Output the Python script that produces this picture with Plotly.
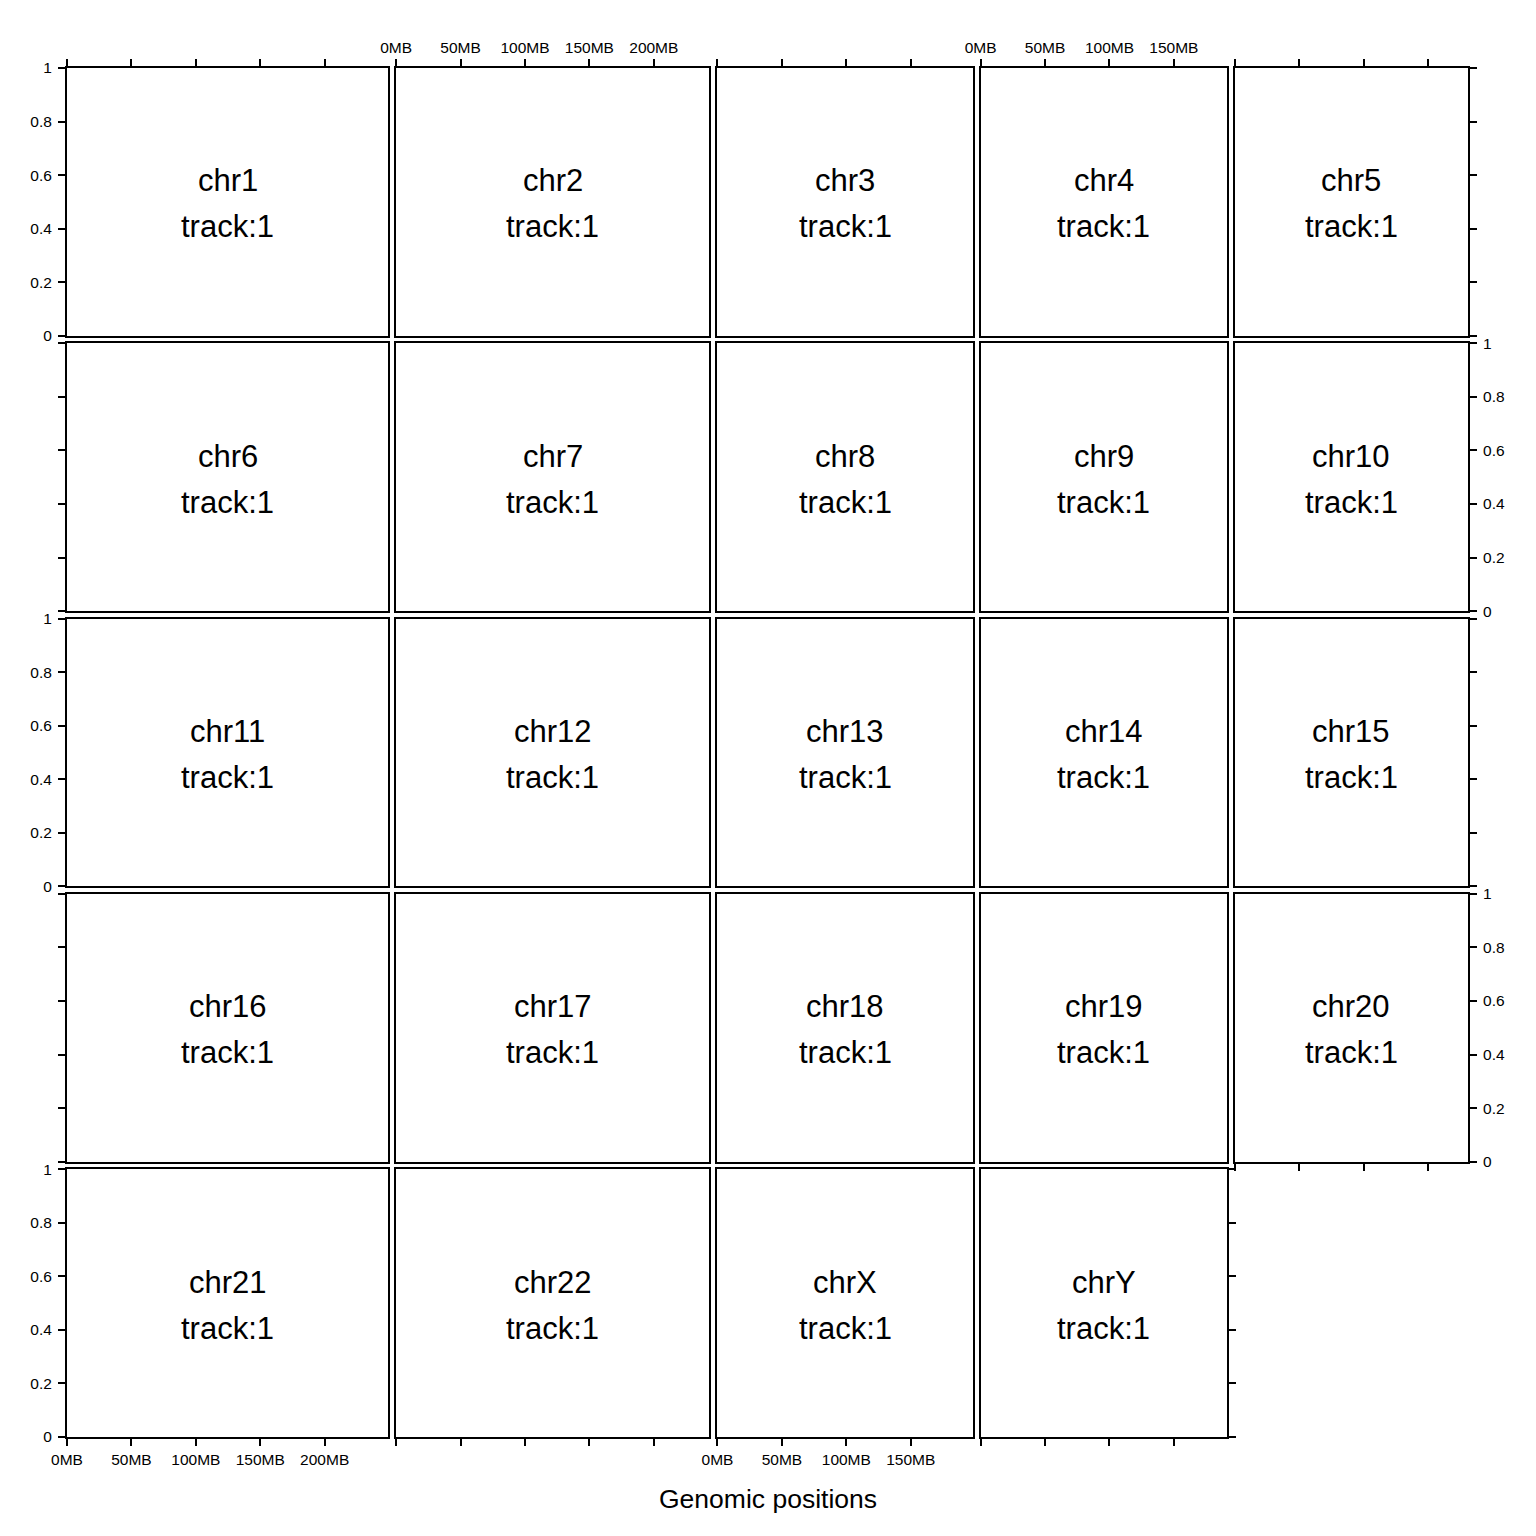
import plotly.graph_objects as go

# ---------------- data ----------------
chromosomes = ["chr1", "chr2", "chr3", "chr4", "chr5", "chr6", "chr7", "chr8",
               "chr9", "chr10", "chr11", "chr12", "chr13", "chr14", "chr15",
               "chr16", "chr17", "chr18", "chr19", "chr20", "chr21", "chr22",
               "chrX", "chrY"]
# hg19 chromosome lengths in MB
chrom_len_mb = [249.25, 243.20, 198.02, 191.15, 180.92, 171.12, 159.14, 146.36,
                141.21, 135.53, 135.01, 133.85, 115.17, 107.35, 102.53,
                90.35, 81.20, 78.08, 59.13, 63.03, 48.13, 51.30,
                155.27, 59.37]
track_labels = ["track:1"] * len(chromosomes)
x_tick_mb = [0, 50, 100, 150, 200]
x_tick_text = ["0MB", "50MB", "100MB", "150MB", "200MB"]
y_tick_vals = [0, 0.2, 0.4, 0.6, 0.8, 1]
y_tick_text = ["0", "0.2", "0.4", "0.6", "0.8", "1"]
x_title = "Genomic positions"

# ---------------- layout ----------------
W = H = 1536
NROW, NCOL = 5, 5
LEFT, RIGHT, TOP, BOTTOM = 67, 1468, 68, 1437
GAPX, GAPY = 8, 7.5
FONT = "Liberation Sans, Arial, Helvetica, sans-serif"

col_max = []
for c in range(NCOL):
    vals = [chrom_len_mb[i] for i in range(len(chromosomes)) if i % NCOL == c]
    col_max.append(max(vals))
scale = (RIGHT - LEFT - GAPX * (NCOL - 1)) / sum(col_max)
col_x = []
x = LEFT
for c in range(NCOL):
    w = col_max[c] * scale
    col_x.append((x, x + w))
    x += w + GAPX
row_h = (BOTTOM - TOP - GAPY * (NROW - 1)) / NROW
row_y = [(TOP + r * (row_h + GAPY), TOP + r * (row_h + GAPY) + row_h) for r in range(NROW)]

fig = go.Figure()
layout = dict(template="none", width=W, height=H, autosize=False,
              margin=dict(l=0, r=0, t=0, b=0, pad=0, autoexpand=False),
              paper_bgcolor="white", plot_bgcolor="white",
              showlegend=False, font=dict(family=FONT, color="black"))
annotations = []

last_row_of_col = {}
for i in range(len(chromosomes)):
    last_row_of_col[i % NCOL] = i // NCOL

for i, chrom in enumerate(chromosomes):
    r, c = i // NCOL, i % NCOL
    k = i + 1
    xa = "xaxis" if k == 1 else f"xaxis{k}"
    ya = "yaxis" if k == 1 else f"yaxis{k}"
    xr = "x" if k == 1 else f"x{k}"
    yr = "y" if k == 1 else f"y{k}"
    x0, x1 = col_x[c]
    y0, y1 = row_y[r]
    cm = col_max[c]
    tv = [v for v in x_tick_mb if v <= cm]
    tt = [x_tick_text[j] for j, v in enumerate(x_tick_mb) if v <= cm]

    # x axis: top on first row, bottom on last row of column
    xside, xticks, xlabels = "bottom", "", False
    if r == 0:
        xside, xticks, xlabels = "top", "outside", (c % 2 == 1)
    elif r == last_row_of_col[c]:
        xside, xticks, xlabels = "bottom", "outside", (c in (0, 2))
    # y axis: left on first column, right on last column of row
    yside, yticks, ylabels = "left", "", False
    ncols_in_row = len([j for j in range(len(chromosomes)) if j // NCOL == r])
    if c == 0:
        yside, yticks, ylabels = "left", "outside", (r % 2 == 0)
    elif c == ncols_in_row - 1:
        yside, yticks, ylabels = "right", "outside", (r % 2 == 1 and c == NCOL - 1)

    layout[xa] = dict(domain=[x0 / W, x1 / W], range=[0, cm], anchor=yr,
                      side=xside, showline=True, mirror=True, linecolor="black",
                      linewidth=2, ticks=xticks, ticklen=7, tickwidth=2,
                      tickcolor="black", tickvals=tv, ticktext=tt,
                      showticklabels=xlabels, showgrid=False, zeroline=False,
                      automargin=False,
                      tickfont=dict(size=15.5, family=FONT, color="black"),
                      fixedrange=True)
    layout[ya] = dict(domain=[1 - y1 / H, 1 - y0 / H], range=[0, 1], anchor=xr,
                      side=yside, showline=True, mirror=True, linecolor="black",
                      linewidth=2, ticks=yticks, ticklen=7, tickwidth=2,
                      tickcolor="black", tickvals=y_tick_vals, ticktext=y_tick_text,
                      showticklabels=ylabels, showgrid=False, zeroline=False,
                      automargin=False, ticklabelstandoff=3,
                      tickfont=dict(size=15.5, family=FONT, color="black"),
                      fixedrange=True)
    fig.add_trace(go.Scatter(x=[0, chrom_len_mb[i]], y=[0.5, 0.5], mode="lines",
                             line=dict(width=0), opacity=0, hoverinfo="skip",
                             xaxis=xr, yaxis=yr))
    annotations.append(dict(x=cm / 2, y=0.5, xref=xr, yref=yr, text=chrom,
                            showarrow=False, yshift=21,
                            font=dict(size=31, family=FONT, color="black")))
    annotations.append(dict(x=cm / 2, y=0.5, xref=xr, yref=yr, text=track_labels[i],
                            showarrow=False, yshift=-25,
                            font=dict(size=31, family=FONT, color="black")))

annotations.append(dict(x=0.5, y=1 - 1499 / H, xref="paper", yref="paper",
                        xanchor="center", yanchor="middle",
                        text=x_title, showarrow=False,
                        font=dict(size=26.5, family=FONT, color="black")))
layout["annotations"] = annotations
fig.update_layout(**layout)
fig.write_html("out.html")
